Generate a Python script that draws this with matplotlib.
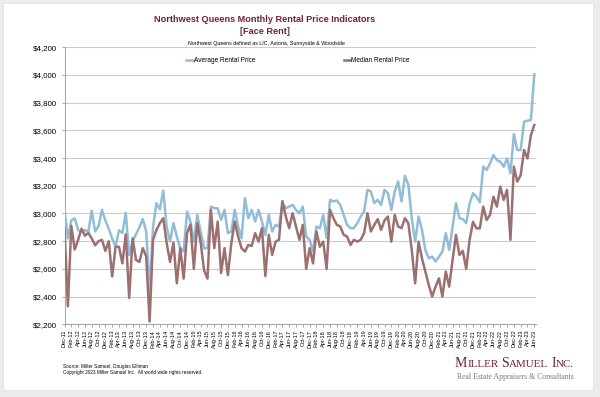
import matplotlib
matplotlib.use("Agg")
import matplotlib.pyplot as plt
from matplotlib.patches import Rectangle
from matplotlib.ticker import FuncFormatter
import pandas as pd

# monthly series, Dec-11 .. Jun-23
months = pd.date_range("2011-12-01", "2023-06-01", freq="MS")
month_labels = [m.strftime("%b-%y") for m in months]

average_rent = [
    3030, 2820, 2950, 2965, 2880, 2870, 2880, 2870, 3020, 2870,
    2910, 3025, 2950, 2890, 2820, 2760, 2880, 2860, 3005, 2700,
    2800, 2850, 2900, 2960, 2870, 2450, 2900, 3075, 3030, 3166,
    2906, 2797, 2930, 2834, 2749, 2725, 3014, 2942, 2797, 2990,
    2870, 2749, 2749, 3050, 3038, 3038, 2954, 3026, 2858, 2870,
    3026, 2906, 2822, 3111, 2966, 3026, 2942, 3026, 2942, 2846,
    2990, 2870, 2918, 2906, 3075, 3038, 3050, 3062, 3026, 3002,
    3050, 2834, 2810, 2725, 2906, 2894, 2990, 2822, 3099, 3087,
    3094, 3062, 2990, 2918, 2894, 2894, 2930, 2978, 3014, 3171,
    3159, 3075, 3099, 3062, 3171, 3147, 3026, 3159, 3231, 3087,
    3272, 3207, 2966, 2797, 2978, 2882, 2737, 2677, 2689, 2653,
    2689, 2725, 2858, 2737, 2906, 3075, 2966, 2960, 2930, 3073,
    3146, 3121, 3080, 3338, 3314, 3362, 3422, 3386, 3374, 3338,
    3398, 3290, 3574, 3458, 3458, 3663, 3670, 3675, 4005,
]

median_rent = [
    2890, 2330, 2910, 2740, 2810, 2890, 2840, 2860, 2820, 2770,
    2800, 2810, 2730, 2800, 2545, 2760, 2760, 2640, 2850, 2390,
    2820, 2665, 2650, 2750, 2690, 2220, 2810, 2880, 2930, 2966,
    2790, 2650, 2790, 2496, 2750, 2530, 2860, 2920, 2600, 2930,
    2790, 2590, 2530, 3026, 2750, 2942, 2570, 2750, 2555, 2785,
    2942, 2834, 2750, 2725, 2773, 2766, 2858, 2797, 2894, 2549,
    2846, 2701, 2797, 2810, 3090, 2978, 2894, 3002, 2906, 2810,
    2918, 2600, 2750, 2640, 2870, 2760, 2797, 2600, 3026, 2966,
    2918, 2906, 2846, 2834, 2773, 2810, 2797, 2810, 2858, 3002,
    2870, 2918, 2959, 2882, 2950, 2978, 2797, 2990, 2906, 2894,
    2966, 2930, 2737, 2496, 2797, 2677, 2581, 2484, 2400, 2472,
    2532, 2400, 2581, 2472, 2665, 2846, 2701, 2730, 2600, 2810,
    2940, 2893, 2893, 3050, 2953, 2990, 3121, 3050, 3194, 3097,
    3170, 2810, 3338, 3230, 3278, 3458, 3398, 3566, 3639,
]

y_ticks = list(range(2200, 4201, 200))

W, H = 600, 397
MAROON = "#74203a"
BLUE = "#92bdd6"
BROWN = "#9c7070"
SANS = "Liberation Sans"
SERIF = "Liberation Serif"


def fx(px):
    return px / W


def fy(py):
    return 1 - py / H


fig = plt.figure(figsize=(W / 100, H / 100), dpi=100)
fig.patch.set_facecolor("#ececec")
fig.add_artist(Rectangle((fx(3), fy(390)), fx(590), 387 / H, transform=fig.transFigure,
                         facecolor="white", edgecolor="#e2e2e2", lw=0.6, zorder=0))

ax = fig.add_axes([fx(64.5), fy(324.3), fx(536 - 64.5), (324.3 - 47.3) / H])
ax.set_facecolor("white")

x = list(range(len(months)))
ax.plot(x, average_rent, color=BLUE, lw=1.8, label="Average Rental Price", zorder=3)
ax.plot(x, median_rent, color=BROWN, lw=1.8, label="Median Rental Price", zorder=4)

ax.set_xlim(0, len(months) - 0.5)
ax.set_ylim(2200, 4200)
ax.set_yticks(y_ticks)
ax.yaxis.set_major_formatter(FuncFormatter(lambda v, _: f"${v:,.0f}"))
ax.grid(axis="y", color="#cccccc", lw=0.8, zorder=0)
ax.set_axisbelow(True)

ax.set_xticks(x[::2])
ax.set_xticklabels(month_labels[::2], rotation=90, fontsize=4, family=SANS)
for lbl in ax.get_yticklabels():
    lbl.set_family(SANS)
    lbl.set_fontsize(5.7)
ax.tick_params(axis="both", colors="#999999", length=2.5, width=0.6, labelcolor="black", pad=1.5)
ax.tick_params(axis="y", pad=3)

for side in ["top", "right"]:
    ax.spines[side].set_visible(False)
for side in ["left", "bottom"]:
    ax.spines[side].set_color("#aaaaaa")
    ax.spines[side].set_linewidth(0.8)

ax.legend(loc="center left", bbox_to_anchor=(fx(186), fy(61)), bbox_transform=fig.transFigure,
          ncol=2, frameon=False, prop={"family": SANS, "size": 4.7}, handlelength=1.0,
          handletextpad=0.15, columnspacing=13.6, borderpad=0, borderaxespad=0)

fig.text(fx(265), fy(19), "Northwest Queens Monthly Rental Price Indicators", ha="center", va="center",
         fontsize=6.6, fontweight="bold", color=MAROON, family=SANS)
fig.text(fx(265), fy(32), "[Face Rent]", ha="center", va="center",
         fontsize=6.6, fontweight="bold", color=MAROON, family=SANS)
fig.text(fx(266), fy(43), "Northwest Queens defined as LIC, Astoria, Sunnyside & Woodside",
         ha="center", va="center", fontsize=3.8, family=SANS)

fig.text(fx(63), fy(366.7), "Source: Miller Samuel, Douglas Elliman", va="center", fontsize=3.4, family=SANS)
fig.text(fx(63), fy(372.7), "Copyright 2023 Miller Samuel Inc.  All world wide rights reserved.",
         va="center", fontsize=3.4, family=SANS)

# logo in small caps, built piece by piece
fig.canvas.draw()
renderer = fig.canvas.get_renderer()
pieces = [("M", 10), ("ILLER", 7.9), (" ", 0), ("S", 10), ("AMUEL", 7.9), (" ", 0), ("I", 10), ("NC.", 7.9)]
xpos = 455
for piece, size in pieces:
    if piece == " ":
        xpos += 3
        continue
    t = fig.text(fx(xpos), fy(366.7), piece, fontsize=size, family=SERIF, color=MAROON, va="baseline")
    xpos += t.get_window_extent(renderer).width
fig.text(fx(457), fy(377), "Real Estate Appraisers & Consultants", va="center",
         fontsize=5.6, family=SERIF, color="#7a7a7a")

fig.savefig("out.png", dpi=100, facecolor=fig.get_facecolor())
